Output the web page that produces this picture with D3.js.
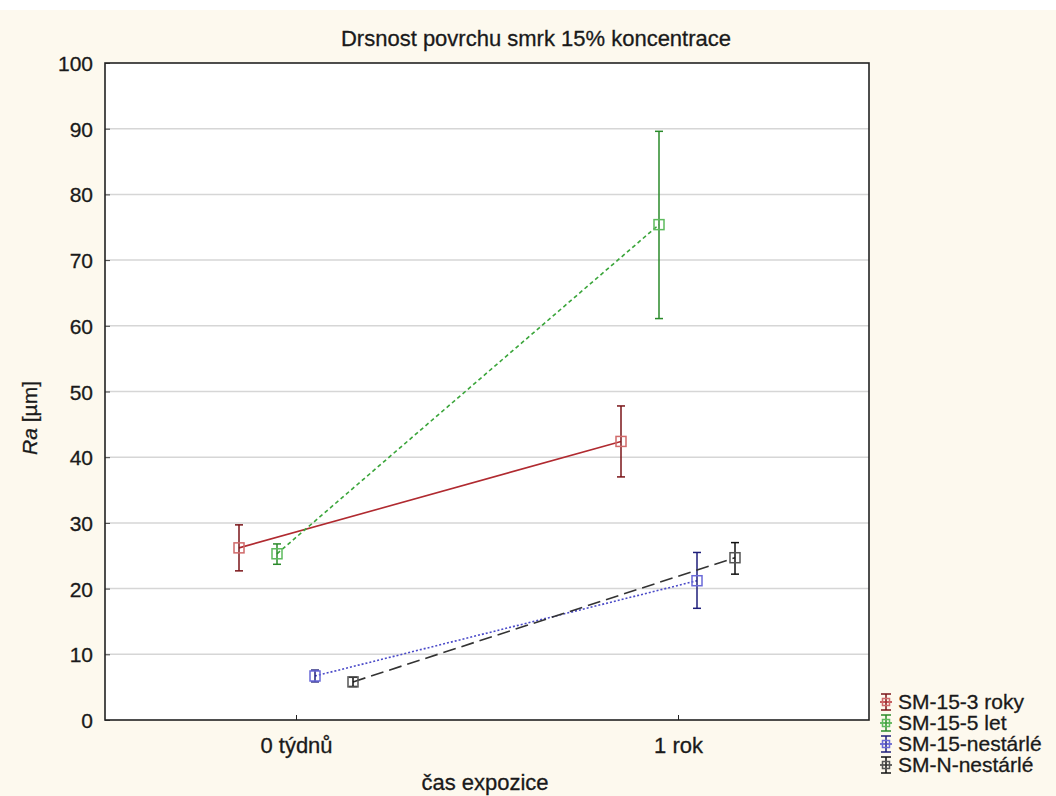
<!DOCTYPE html>
<html><head><meta charset="utf-8">
<script src="https://cdn.jsdelivr.net/npm/d3@7"></script>
<style>
html,body{margin:0;padding:0;background:#fff;}
text{font-family:"Liberation Sans",Arial,sans-serif;fill:#1a1a1a;stroke:#1a1a1a;stroke-width:0.3px;}
</style></head>
<body>
<svg id="chart" width="1056" height="796"></svg>
<script>
const categories = ["0 týdnů", "1 rok"];
const seriesNames = ["SM-15-3 roky", "SM-15-5 let", "SM-15-nestárlé", "SM-N-nestárlé"];
const meanRed   = [26.2, 42.4];
const lowRed    = [22.7, 37.0];
const highRed   = [29.7, 47.8];
const meanGreen = [25.3, 75.4];
const lowGreen  = [23.7, 61.1];
const highGreen = [26.8, 89.6];
const meanBlue  = [6.7, 21.2];
const lowBlue   = [5.8, 17.0];
const highBlue  = [7.6, 25.5];
const meanBlack = [5.8, 24.7];
const lowBlack  = [5.1, 22.2];
const highBlack = [6.5, 27.0];
const yTicks = [0, 10, 20, 30, 40, 50, 60, 70, 80, 90, 100];

const styles = [
  {line:"#b02a30", bar:"#7a1418", mark:"#d06a6a", dash:null},
  {line:"#3aa53a", bar:"#2a8a2a", mark:"#5dbb5d", dash:"4,3"},
  {line:"#4a4ac8", bar:"#1e1e7a", mark:"#6a6ad8", dash:"2,2"},
  {line:"#333333", bar:"#111111", mark:"#555555", dash:"13,6"}
];
const data = [
  {mean:meanRed, lo:lowRed, hi:highRed},
  {mean:meanGreen, lo:lowGreen, hi:highGreen},
  {mean:meanBlue, lo:lowBlue, hi:highBlue},
  {mean:meanBlack, lo:lowBlack, hi:highBlack}
].map((d,i)=>({name:seriesNames[i], ...d, st:styles[i]}));

const svg = d3.select("#chart");
const W = 1056, H = 796;
const m = {l:105, r:869, t:63, b:720};

svg.append("rect").attr("x",0).attr("y",10).attr("width",W).attr("height",H-10).attr("fill","#fdf9ee");
svg.append("rect").attr("x",m.l).attr("y",m.t).attr("width",m.r-m.l).attr("height",m.b-m.t).attr("fill","#fff");

const x = d3.scalePoint().domain(categories).range([m.l, m.r]).padding(0.5);
const off = d3.scalePoint().domain(seriesNames).range([-57, 57]);
const y = d3.scaleLinear().domain([0,100]).range([m.b, m.t]);

// grid
svg.append("g").selectAll("line").data(yTicks.filter(t=>t>0&&t<100)).join("line")
  .attr("x1",m.l).attr("x2",m.r).attr("y1",d=>y(d)).attr("y2",d=>y(d))
  .attr("stroke","#d6d6d6").attr("stroke-width",1.5);

// y axis
const yAxis = d3.axisLeft(y).tickValues(yTicks).tickSize(-5).tickPadding(12);
const gy = svg.append("g").attr("transform",`translate(${m.l},0)`).call(yAxis);
gy.select(".domain").remove();
gy.selectAll(".tick line").attr("stroke","#444");
gy.selectAll(".tick text").attr("font-size",21).attr("font-family","Liberation Sans, Arial, sans-serif").attr("fill","#1a1a1a").attr("dy","0.36em");

// x axis
const xAxis = d3.axisBottom(x).tickSize(-5).tickPadding(17);
const gx = svg.append("g").attr("transform",`translate(0,${m.b})`).call(xAxis);
gx.select(".domain").remove();
gx.selectAll(".tick line").attr("stroke","#222");
gx.selectAll(".tick text").attr("font-size",22).attr("font-family","Liberation Sans, Arial, sans-serif").attr("fill","#1a1a1a");

// frame
svg.append("rect").attr("x",m.l).attr("y",m.t).attr("width",m.r-m.l).attr("height",m.b-m.t)
  .attr("fill","none").attr("stroke","#222").attr("stroke-width",1.6);

// series
const px = (s,i)=>x(categories[i]) + off(s.name);
data.forEach(s=>{
  const g = svg.append("g");
  const line = d3.line().x((d,i)=>px(s,i)).y(d=>y(d));
  g.append("path").datum(s.mean).attr("d",line).attr("fill","none")
    .attr("stroke",s.st.line).attr("stroke-width",1.6).attr("stroke-dasharray",s.st.dash);
  s.mean.forEach((v,i)=>{
    const cx = px(s,i);
    g.append("line").attr("x1",cx).attr("x2",cx).attr("y1",y(s.lo[i])).attr("y2",y(s.hi[i])).attr("stroke",s.st.bar).attr("stroke-width",1.5);
    [s.lo[i], s.hi[i]].forEach(e=>g.append("line").attr("x1",cx-4).attr("x2",cx+4).attr("y1",y(e)).attr("y2",y(e)).attr("stroke",s.st.bar).attr("stroke-width",1.5));
    g.append("rect").attr("x",cx-5).attr("y",y(v)-5).attr("width",10).attr("height",10)
      .attr("fill","none").attr("stroke",s.st.mark).attr("stroke-width",1.5);
  });
});

// title & axis labels
svg.append("text").attr("x",536).attr("y",46).attr("text-anchor","middle").attr("font-size",22).text("Drsnost povrchu smrk 15% koncentrace");
svg.append("text").attr("x",485).attr("y",790).attr("text-anchor","middle").attr("font-size",22).text("čas expozice");
const yl = svg.append("text").attr("transform","translate(37,418) rotate(-90)").attr("text-anchor","middle").attr("font-size",21);
yl.append("tspan").attr("font-style","italic").text("Ra");
yl.append("tspan").text(" [µm]");

// legend
const lg = svg.append("g");
data.forEach((s,i)=>{
  const cy = 702 + i*21;
  const cx = 886;
  const g = lg.append("g");
  g.append("line").attr("x1",cx).attr("x2",cx).attr("y1",cy-8).attr("y2",cy+8).attr("stroke",s.st.bar).attr("stroke-width",1.5);
  g.append("line").attr("x1",cx-5).attr("x2",cx+5).attr("y1",cy-8).attr("y2",cy-8).attr("stroke",s.st.bar).attr("stroke-width",1.5);
  g.append("line").attr("x1",cx-5).attr("x2",cx+5).attr("y1",cy+8).attr("y2",cy+8).attr("stroke",s.st.bar).attr("stroke-width",1.5);
  g.append("line").attr("x1",cx-6).attr("x2",cx+6).attr("y1",cy).attr("y2",cy).attr("stroke",s.st.line).attr("stroke-width",1.5);
  g.append("rect").attr("x",cx-3.5).attr("y",cy-3.5).attr("width",7).attr("height",7).attr("fill","none").attr("stroke",s.st.mark).attr("stroke-width",1.5);
  g.append("text").attr("x",898).attr("y",cy+7).attr("font-size",21).text(s.name);
});
</script>
</body></html>
